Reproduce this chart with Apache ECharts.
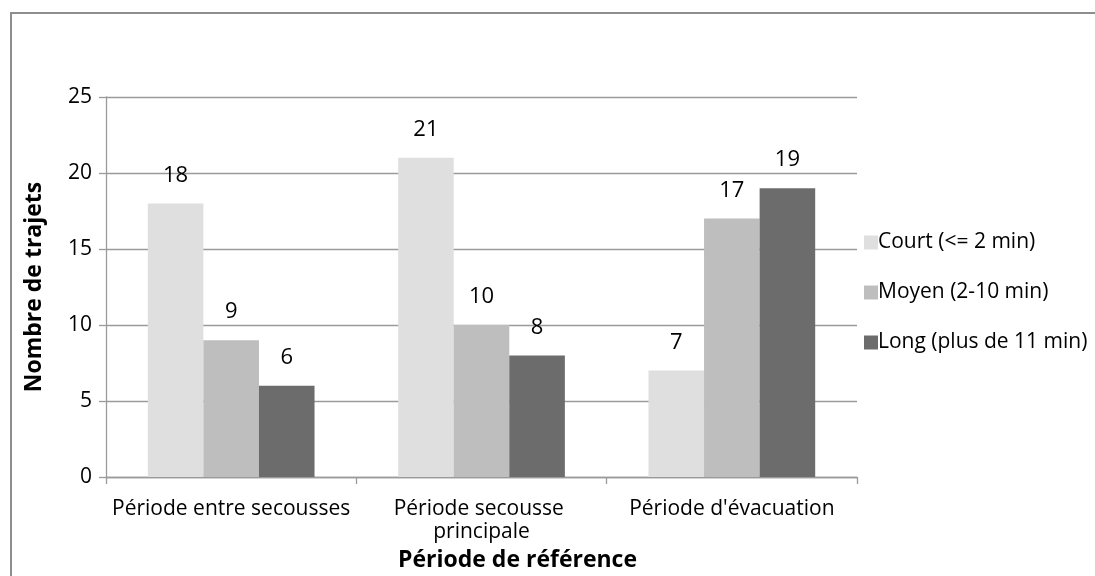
<!DOCTYPE html>
<html>
<head>
<meta charset="utf-8">
<script src="https://cdn.jsdelivr.net/npm/echarts@6/dist/echarts.min.js"></script>
<style>
  html, body { margin: 0; padding: 0; background: #fff; }
  #chart { width: 1095px; height: 576px; }
</style>
</head>
<body>
<div id="chart"></div>
<script>
// Trajets par période de référence et par durée
const categories = ['Période entre secousses', 'Période secousse principale', "Période d'évacuation"];
const seriesNames = ['Court (<= 2 min)', 'Moyen (2-10 min)', 'Long (plus de 11 min)'];
const court = [18, 21, 7];
const moyen = [9, 10, 17];
const long = [6, 8, 19];
const yTicks = { min: 0, max: 25, interval: 5 };

const colors = ['#dfdfdf', '#bebebe', '#6c6c6c'];
const FONT = 'Open Sans';
const gridColor = '#9a9a9a';

const chart = echarts.init(document.getElementById('chart'), null, { renderer: 'canvas' });

function barSeries(name, data, color) {
  return {
    name: name,
    type: 'bar',
    data: data,
    barGap: '0%',
    barCategoryGap: '33.4%',
    itemStyle: { color: color },
    label: {
      show: true,
      position: 'top',
      distance: 17,
      color: '#000',
      fontFamily: FONT,
      fontSize: 22
    }
  };
}

chart.setOption({
  backgroundColor: '#fff',
  animation: false,
  textStyle: { fontFamily: FONT },
  graphic: [{
    type: 'rect',
    shape: { x: 11, y: 13, width: 1200, height: 700 },
    style: { fill: 'none', stroke: '#8e8e8e', lineWidth: 2 },
    silent: true
  }],
  grid: { left: 106, right: 238, top: 97, bottom: 99, containLabel: false, outerBoundsMode: 'none' },
  legend: {
    orient: 'vertical',
    left: 859,
    top: 227,
    itemWidth: 14,
    itemHeight: 14,
    itemGap: 29,
    icon: 'rect',
    textStyle: { color: '#000', fontFamily: FONT, fontSize: 21, padding: [0, 0, 0, -5] },
    data: seriesNames
  },
  xAxis: {
    type: 'category',
    data: categories,
    name: 'Période de référence',
    nameLocation: 'middle',
    nameGap: 72,
    nameTextStyle: { color: '#000', fontFamily: FONT, fontSize: 23, fontWeight: 'bold', padding: [0, 0, 0, 72] },
    axisLine: { lineStyle: { color: gridColor, width: 1.3 } },
    axisTick: { show: true, length: 7, alignWithLabel: false, lineStyle: { color: gridColor, width: 1.3 } },
    axisLabel: {
      interval: 0,
      margin: 21,
      color: '#000',
      fontFamily: FONT,
      fontSize: 21,
      lineHeight: 23,
      width: 262,
      overflow: 'break'
    }
  },
  yAxis: {
    type: 'value',
    min: yTicks.min,
    max: yTicks.max,
    interval: yTicks.interval,
    name: 'Nombre de trajets',
    nameLocation: 'middle',
    nameGap: 60,
    nameTextStyle: { color: '#000', fontFamily: FONT, fontSize: 23, fontWeight: 'bold' },
    axisLine: { show: true, lineStyle: { color: gridColor, width: 1.3 } },
    axisTick: { show: true, length: 7, lineStyle: { color: gridColor, width: 1.3 } },
    axisLabel: { margin: 14, color: '#000', fontFamily: FONT, fontSize: 21 },
    splitLine: { show: true, lineStyle: { color: gridColor, width: 1.3 } }
  },
  series: [
    barSeries(seriesNames[0], court, colors[0]),
    barSeries(seriesNames[1], moyen, colors[1]),
    barSeries(seriesNames[2], long, colors[2])
  ]
});
</script>
</body>
</html>
